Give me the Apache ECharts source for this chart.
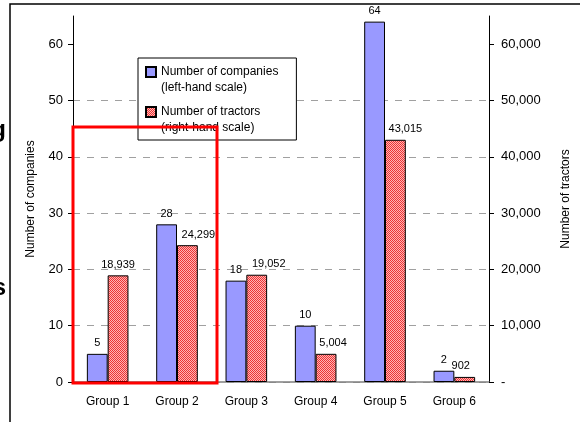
<!DOCTYPE html>
<html>
<head>
<meta charset="utf-8">
<script src="https://cdn.jsdelivr.net/npm/echarts@6/dist/echarts.min.js"></script>
<style>
  html, body { margin: 0; padding: 0; background: #fff; }
  #chart { width: 580px; height: 422px; }
</style>
</head>
<body>
<div id="chart"></div>
<script>
// data
const groups = ["Group 1", "Group 2", "Group 3", "Group 4", "Group 5", "Group 6"];
const companies = [5, 28, 18, 10, 64, 2];
const tractors = [18939, 24299, 19052, 5004, 43015, 902];
const leftTicks = [0, 10, 20, 30, 40, 50, 60];
const rightTicks = [0, 10000, 20000, 30000, 40000, 50000, 60000];

// the tractor labels were nudged sideways by hand in the original (px)
const tractorLabelShift = [0, 11, 12, 7, 10, -4];

// checkered fill for the tractors bars
function checker() {
  const c = document.createElement("canvas");
  c.width = 2;
  c.height = 2;
  const ctx = c.getContext("2d");
  ctx.fillStyle = "#ffb4b4";
  ctx.fillRect(0, 0, 2, 2);
  ctx.fillStyle = "#ec3434";
  ctx.fillRect(0, 0, 1, 1);
  ctx.fillRect(1, 1, 1, 1);
  return { image: c, repeat: "repeat" };
}

const fmt = v => v.toString().replace(/\B(?=(\d{3})+(?!\d))/g, ",");
const font = "Liberation Sans";

const chart = echarts.init(document.getElementById("chart"));
chart.setOption({
  animation: false,
  textStyle: { fontFamily: font },
  grid: { left: 73, right: 89, top: 16, bottom: 40 },
  legend: {
    left: 138,
    top: 58,
    orient: "vertical",
    padding: [6, 18, 4, 7],
    itemGap: 8,
    itemWidth: 10,
    itemHeight: 26,
    backgroundColor: "#fff",
    borderColor: "#000",
    borderWidth: 1,
    textStyle: { fontSize: 12, lineHeight: 16, color: "#000" },
    // square sits beside the first text line
    icon: "path://M0,0H10V10H0Z M0,26",
    formatter: n => n === "companies"
      ? "Number of companies\n(left-hand scale)"
      : "Number of tractors\n(right-hand scale)"
  },
  xAxis: {
    type: "category",
    data: groups,
    axisLine: { lineStyle: { color: "#808080", width: 1.5 } },
    axisTick: { show: false },
    axisLabel: { fontSize: 12, color: "#000", margin: 14 }
  },
  yAxis: [
    {
      type: "value",
      min: 0,
      max: 65,
      interval: 10,
      name: "Number of companies",
      nameLocation: "middle",
      nameGap: 36,
      nameTextStyle: { fontSize: 12, color: "#000" },
      axisLine: { show: true, lineStyle: { color: "#000" } },
      axisTick: { show: true, length: 5, lineStyle: { color: "#000" }, customValues: leftTicks },
      axisLabel: { fontSize: 13, color: "#000", margin: 10, customValues: leftTicks },
      splitLine: {
        showMaxLine: false,
        lineStyle: { color: "#a0a0a0", type: [7, 7] }
      }
    },
    {
      type: "value",
      min: 0,
      max: 65000,
      interval: 10000,
      name: "Number of tractors",
      nameLocation: "middle",
      nameGap: 71,
      nameTextStyle: { fontSize: 12, color: "#000" },
      axisLine: { show: true, lineStyle: { color: "#000" } },
      axisTick: { show: true, length: 5, lineStyle: { color: "#000" }, customValues: rightTicks },
      axisLabel: {
        fontSize: 13,
        color: "#000",
        margin: 12,
        customValues: rightTicks,
        formatter: v => (v === 0 ? "-" : fmt(v))
      },
      splitLine: { show: false }
    }
  ],
  series: [
    {
      name: "companies",
      type: "bar",
      data: companies,
      yAxisIndex: 0,
      barWidth: "30%",
      barGap: "0%",
      itemStyle: { color: "#9999ff", borderColor: "#000", borderWidth: 1 },
      label: { show: true, position: "top", distance: 5, fontSize: 11, color: "#000" }
    },
    {
      name: "tractors",
      type: "bar",
      data: tractors.map((v, i) => ({
        value: v,
        label: { offset: [tractorLabelShift[i], 0] }
      })),
      yAxisIndex: 1,
      barWidth: "30%",
      itemStyle: { color: checker(), borderColor: "#000", borderWidth: 1 },
      label: {
        show: true,
        position: "top",
        distance: 5,
        fontSize: 11,
        color: "#000",
        formatter: p => fmt(p.value)
      }
    }
  ],
  graphic: [
    // frame of the slide the chart was cut from
    {
      type: "polyline",
      shape: { points: [[10, 422], [10, 4], [580, 4]] },
      style: { stroke: "#000", lineWidth: 1.5, fill: null }
    },
    { type: "text", right: 574, top: 118, style: { text: "g", font: "bold 24px " + font, fill: "#000" } },
    { type: "text", right: 574, top: 276, style: { text: "s", font: "bold 24px " + font, fill: "#000" } },
    // red highlight box
    {
      type: "rect",
      shape: { x: 73, y: 127, width: 144, height: 256 },
      style: { stroke: "#ff0000", lineWidth: 3, fill: null },
      z: 10
    }
  ]
});
</script>
</body>
</html>
